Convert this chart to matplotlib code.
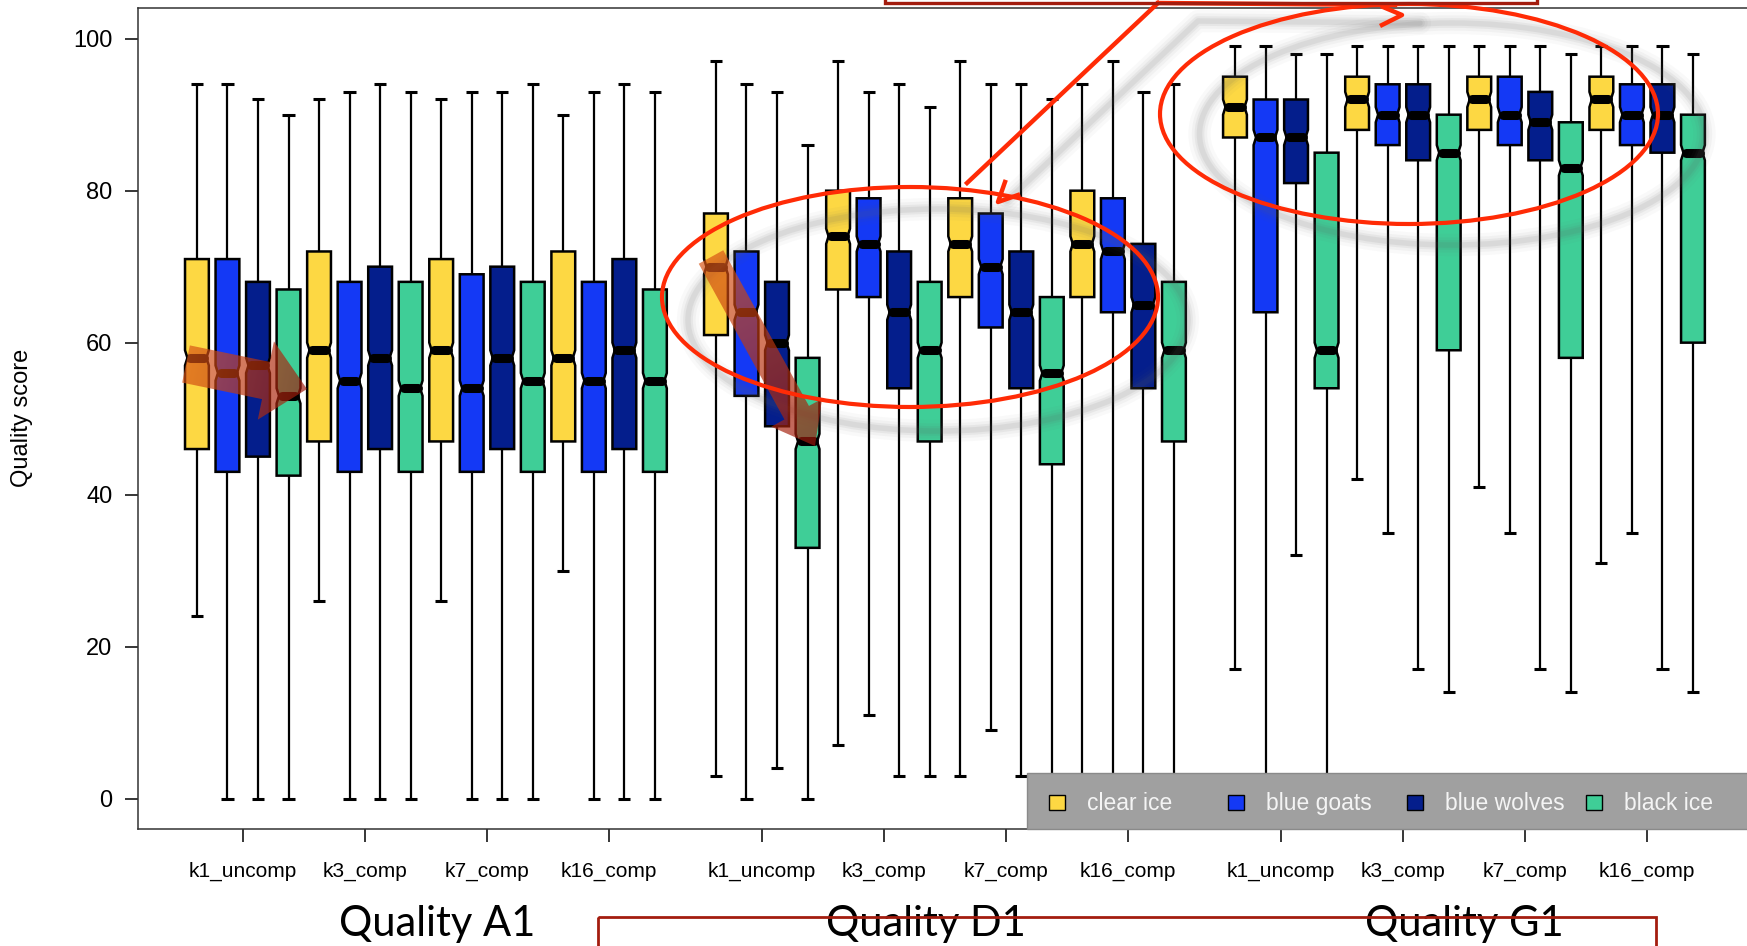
import numpy as np
import matplotlib
matplotlib.use('Agg')
import matplotlib.pyplot as plt
from matplotlib.patches import Ellipse, Rectangle, Polygon

qualities = ['Quality A1', 'Quality D1', 'Quality G1']
methods = ['k1_uncomp', 'k3_comp', 'k7_comp', 'k16_comp']
teams = ['clear ice', 'blue goats', 'blue wolves', 'black ice']
team_colors = ['#FDD843', '#1439F5', '#041E8C', '#3FCE97']

# 16 boxes per quality, ordered method by method, four teams each
a1_hi = [94, 94, 92, 90, 92, 93, 94, 93, 92, 93, 93, 94, 90, 93, 94, 93]
a1_q3 = [71, 71, 68, 67, 72, 68, 70, 68, 71, 69, 70, 68, 72, 68, 71, 67]
a1_med = [58, 56, 57, 53, 59, 55, 58, 54, 59, 54, 58, 55, 58, 55, 59, 55]
a1_q1 = [46, 43, 45, 42.5, 47, 43, 46, 43, 47, 43, 46, 43, 47, 43, 46, 43]
a1_lo = [24, 0, 0, 0, 26, 0, 0, 0, 26, 0, 0, 0, 30, 0, 0, 0]

d1_hi = [97, 94, 93, 86, 97, 93, 94, 91, 97, 94, 94, 92, 94, 97, 93, 94]
d1_q3 = [77, 72, 68, 58, 80, 79, 72, 68, 79, 77, 72, 66, 80, 79, 73, 68]
d1_med = [70, 64, 60, 47, 74, 73, 64, 59, 73, 70, 64, 56, 73, 72, 65, 59]
d1_q1 = [61, 53, 49, 33, 67, 66, 54, 47, 66, 62, 54, 44, 66, 64, 54, 47]
d1_lo = [3, 0, 4, 0, 7, 11, 3, 3, 3, 9, 3, 0, 0, 0, 0, 0]

g1_hi = [99, 99, 98, 98, 99, 99, 99, 99, 99, 99, 99, 98, 99, 99, 99, 98]
g1_q3 = [95, 92, 92, 85, 95, 94, 94, 90, 95, 95, 93, 89, 95, 94, 94, 90]
g1_med = [91, 87, 87, 59, 92, 90, 90, 85, 92, 90, 89, 83, 92, 90, 90, 85]
g1_q1 = [87, 64, 81, 54, 88, 86, 84, 59, 88, 86, 84, 58, 88, 86, 85, 60]
g1_lo = [17, 0, 32, 0, 42, 35, 17, 14, 41, 35, 17, 14, 31, 35, 17, 14]

stats = [
    (a1_lo, a1_q1, a1_med, a1_q3, a1_hi),
    (d1_lo, d1_q1, d1_med, d1_q3, d1_hi),
    (g1_lo, g1_q1, g1_med, g1_q3, g1_hi),
]

W, H = 1747, 946
BOX_W = 0.78
CAP = 0.2
NOTCH = 1.0
RED = '#FF2B06'
DARKRED = '#A31D0F'

plt.rcParams['font.family'] = ['Liberation Sans', 'DejaVu Sans']

fig = plt.figure(figsize=(W / 100, H / 100), dpi=100)
ax = fig.add_axes([138 / W, 1 - 829 / H, 1 - 138 / W, (829 - 8.3) / H])


def draw_box(x, lo, q1, med, q3, hi, color):
    hw = BOX_W / 2
    inner = hw * 0.8
    xs = [x - hw, x + hw, x + hw, x + inner, x + hw, x + hw,
          x - hw, x - hw, x - inner, x - hw]
    ys = [q1, q1, med - NOTCH, med, med + NOTCH, q3,
          q3, med + NOTCH, med, med - NOTCH]
    ax.vlines([x, x], [lo, q3], [q1, hi], color='black', lw=1.6, zorder=1)
    ax.hlines([lo, hi], x - CAP, x + CAP, color='black', lw=2.2, zorder=2)
    ax.fill(xs, ys, facecolor=color, edgecolor='black', lw=1.8, zorder=3)
    ax.plot([x - 0.29 * BOX_W, x + 0.29 * BOX_W], [med, med], color='black',
            lw=6.5, solid_capstyle='round', zorder=4)


tick_pos, tick_lab = [], []
for g, (lo, q1, med, q3, hi) in enumerate(stats):
    for m in range(len(methods)):
        for t in range(len(teams)):
            i = m * 4 + t
            x = 1 + g * 17 + i
            draw_box(x, lo[i], q1[i], med[i], q3[i], hi[i], team_colors[t])
        tick_pos.append(1 + g * 17 + m * 4 + 1.5)
        tick_lab.append(methods[m])

ax.set_xlim(-0.93, 51.77)
ax.set_ylim(-4, 104)
ax.set_yticks([0, 20, 40, 60, 80, 100])
ax.set_xticks(tick_pos)
ax.set_xticklabels(tick_lab)
ax.tick_params(axis='y', length=9.4, width=1.1, pad=9, labelsize=17)
ax.tick_params(axis='x', length=9.4, width=1.1, pad=14, labelsize=15)
ax.spines['right'].set_visible(False)
for s in ['left', 'top', 'bottom']:
    ax.spines[s].set_linewidth(1.1)
    ax.spines[s].set_color('#333333')

fig.text(22 / W, 1 - 418 / H, 'Quality score', rotation=90, ha='center',
         va='center', fontsize=17)

# overlay in pixel coordinates for the slide annotations
ov = fig.add_axes([0, 0, 1, 1])
ov.axis('off')

SHADOW = [(16, .035), (11, .05), (7, .07), (4, .09)]


def soft_line(xs, ys):
    for lw, a in SHADOW:
        ov.plot(xs, ys, color='#606060', lw=lw, alpha=a,
                solid_capstyle='round', zorder=2)


def soft_ellipse(c, w, h):
    for lw, a in SHADOW:
        ov.add_patch(Ellipse(c, w, h, fill=False, ec='#606060', lw=lw,
                             alpha=a, zorder=2))


def fat_arrow(tail, tip, sw, hw, hl, c0, c1, alpha):
    tail = np.array(tail, float)
    tip = np.array(tip, float)
    d = tip - tail
    L = np.hypot(*d)
    d /= L
    nrm = np.array([-d[1], d[0]])
    base = tip - d * hl
    pts = [tail + nrm * sw / 2, base + nrm * sw / 2, base + nrm * hw / 2, tip,
           base - nrm * hw / 2, base - nrm * sw / 2, tail - nrm * sw / 2]
    poly = Polygon(pts, closed=True, fc='none', ec='none')
    ov.add_patch(poly)
    px = [p[0] for p in pts]
    py = [p[1] for p in pts]
    x0, x1 = int(np.floor(min(px))), int(np.ceil(max(px)))
    y0, y1 = int(np.floor(min(py))), int(np.ceil(max(py)))
    X, Y = np.meshgrid(np.arange(x0, x1) + 0.5, np.arange(y0, y1) + 0.5)
    t = np.clip(((X - tail[0]) * d[0] + (Y - tail[1]) * d[1]) / L, 0, 1)
    rgba = np.zeros(X.shape + (4,))
    for k in range(3):
        rgba[..., k] = c0[k] * (1 - t) + c1[k] * t
    rgba[..., 3] = alpha
    im = ov.imshow(rgba, extent=(x0, x1, y1, y0), origin='upper',
                   interpolation='bilinear', aspect='auto', zorder=3)
    im.set_clip_path(poly)


fat_arrow((186, 364), (307, 389), 38, 80, 42,
          (0.85, 0.33, 0.08), (0.62, 0.1, 0.05), 0.68)
fat_arrow((711, 257), (815, 446), 28, 58, 38,
          (0.85, 0.33, 0.08), (0.62, 0.1, 0.05), 0.68)

# shadows
soft_ellipse((938, 320), 500, 222)
soft_ellipse((1452, 134), 505, 222)
soft_line([1007, 1198, 1420], [201, 21, 23])

# red annotations
ov.add_patch(Ellipse((910, 297), 496, 220, fill=False, ec=RED, lw=3, zorder=4))
ov.add_patch(Ellipse((1409, 114), 498, 220, fill=False, ec=RED, lw=3, zorder=4))
ov.plot([1158, 967], [3, 183], color=RED, lw=3.2, zorder=4)
ov.plot([1005, 998, 1018], [182, 202, 195], color=RED, lw=3.2, zorder=4)
ov.plot([1158, 1395], [3, 5], color=RED, lw=3.2, zorder=4)
ov.plot([1383, 1402, 1382], [7, 15, 25], color=RED, lw=3.2, zorder=4)
ov.add_patch(Rectangle((885, -30), 652, 33, fill=False, ec=DARKRED, lw=2.4,
                       zorder=4))

# legend
ov.add_patch(Rectangle((1027, 773), W - 1027 + 10, 56, fc='#A0A0A0',
                       ec='#8A8A8A', lw=1, zorder=5))
leg_sq = [1057, 1236, 1415, 1594]
for name, col, sx in zip(teams, team_colors, leg_sq):
    ov.add_patch(Rectangle((sx - 8, 795), 16, 15, fc=col, ec='black', lw=1,
                           zorder=6))
    ov.text(sx + 30, 803, name, ha='left', va='center', fontsize=16.5,
            color='#F4F4F4', zorder=6)

# quality group titles
for name, cx in zip(qualities, [437, 926, 1464]):
    ov.text(cx, 936, name, ha='center', va='baseline', fontsize=30,
            family=['Lato', 'DejaVu Sans'], color='black', zorder=4)
ov.add_patch(Rectangle((598, 917), 1058, 60, fill=False, ec=DARKRED, lw=2,
                       zorder=7))

ov.set_xlim(0, W)
ov.set_ylim(H, 0)

fig.savefig('out.png', dpi=100)
